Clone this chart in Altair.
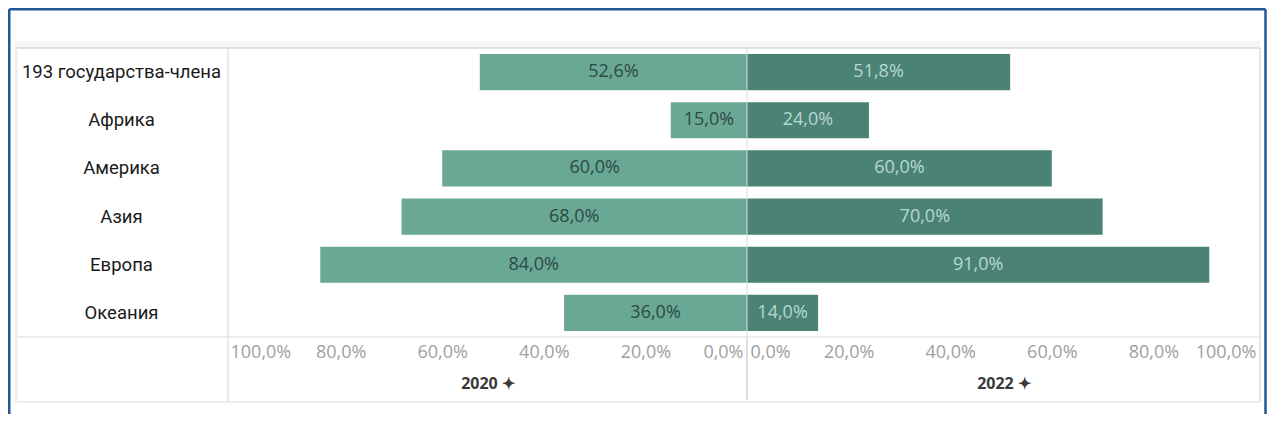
import altair as alt
import pandas as pd

# ---- data ----
regions = ["193 государства-члена", "Африка", "Америка", "Азия", "Европа", "Океания"]
v2020 = [0.526, 0.15, 0.60, 0.68, 0.84, 0.36]
v2022 = [0.518, 0.24, 0.60, 0.70, 0.91, 0.14]
tick_values = [0.0, 0.2, 0.4, 0.6, 0.8, 1.0]
panel_titles = ["2020 ✦", "2022 ✦"]

df = pd.DataFrame({"region": regions, "y2020": v2020, "y2022": v2022})

PX_PER_UNIT = 508.0
WL, WR, H = 519, 513, 289
XMAX_L = WL / PX_PER_UNIT
XMAX_R = WR / PX_PER_UNIT
NUM_FONT = "Open Sans"
ROW_FONT = "Roboto"
fmt_expr = "replace(format(datum.value, '.1%'), '.', ',')"

C_LEFT = "#6aa896"
C_RIGHT = "#4b8276"
GRID = "#dcdcdc"
BLUE = "#1f5894"

yscale = alt.Scale(paddingInner=0.25, paddingOuter=0.125)


def xaxis(title, side):
    if side == "left":
        align = {"condition": [{"test": "datum.value >= 0.99", "value": "left"},
                               {"test": "datum.value <= 0.01", "value": "right"}],
                 "value": "center"}
        offset = {"condition": [{"test": "datum.value >= 0.99", "value": -9},
                                {"test": "datum.value <= 0.01", "value": -4}],
                  "value": 0}
    else:
        align = {"condition": [{"test": "datum.value >= 0.99", "value": "right"},
                               {"test": "datum.value <= 0.01", "value": "left"}],
                 "value": "center"}
        offset = {"condition": [{"test": "datum.value >= 0.99", "value": 1},
                                {"test": "datum.value <= 0.01", "value": 3}],
                  "value": 0}
    return alt.Axis(
        values=tick_values, labelExpr=fmt_expr, title=title, grid=False,
        domain=False, ticks=False, tickSize=0, labelPadding=6,
        labelAlign=align, labelOffset=offset,
        labelColor="#a0a0a0", labelFont=NUM_FONT, labelFontSize=18,
        titleFont=NUM_FONT, titleFontSize=16, titleFontWeight="bold",
        titleColor="#3a3a3a", titlePadding=14,
    )


dummy = alt.Data(values=[{}])


def hrule(x1, x2, y, color=GRID, w=1.0):
    return alt.Chart(dummy).mark_rule(color=color, strokeWidth=w).encode(
        x=alt.value(x1), x2=alt.value(x2), y=alt.value(y))


def vrule(x, y1, y2, color=GRID, w=1.0):
    return alt.Chart(dummy).mark_rule(color=color, strokeWidth=w).encode(
        x=alt.value(x), y=alt.value(y1), y2=alt.value(y2))


RIGHT_EDGE = WL + WR
# decorations (table frame + page border), drawn relative to left panel
top_band = alt.Chart(dummy).mark_rect(color="#f6f6f6").encode(
    x=alt.value(-213), x2=alt.value(RIGHT_EDGE), y=alt.value(-7), y2=alt.value(0))
decor = [
    top_band,
    hrule(-213, RIGHT_EDGE, 0, "#d9d9d9", 1.5),
    hrule(-213, RIGHT_EDGE, H, GRID, 1.2),
    hrule(-213, RIGHT_EDGE, 354, "#eeeeee", 2),
    vrule(-212, 0, 354, "#eeeeee", 3),
    vrule(0, 0, 354, GRID, 1.2),
    vrule(WL, H, 352, "#cccccc", 1.2),
    vrule(RIGHT_EDGE, 0, 354, GRID, 1.5),
    # outer blue frame
    hrule(-218.75, 1037.5, -38.75, BLUE, 2.5),
    vrule(-218.75, -38.75, 366, BLUE, 2.5),
    vrule(1037.5, -38.75, 366, BLUE, 2.5),
]

base_l = alt.Chart(df).transform_calculate(
    mid="datum.y2020 / 2",
    lbl="replace(format(datum.y2020, '.1%'), '.', ',')",
)
xs_l = alt.Scale(domain=[0, XMAX_L], reverse=True, nice=False, zero=True)
bars_l = base_l.mark_bar(color=C_LEFT).encode(
    x=alt.X("y2020:Q", scale=xs_l, axis=xaxis(panel_titles[0], "left")),
    y=alt.Y("region:N", sort=regions, scale=yscale, title=None,
            axis=alt.Axis(labelAlign="center", labelPadding=107, ticks=False,
                          tickSize=0, domain=False, labelFont=ROW_FONT,
                          labelFontSize=18.5, labelColor="#1a1a1a", grid=False,
                          labelBaseline="middle", labelLimit=0)),
)
text_l = base_l.mark_text(color="#2c4a43", font=NUM_FONT, fontSize=18,
                          baseline="middle").encode(
    x=alt.X("mid:Q", title=panel_titles[0]),
    y=alt.Y("region:N", sort=regions),
    text="lbl:N",
)
left = alt.layer(*decor[:1], bars_l, text_l, *decor[1:]).properties(width=WL, height=H)

base_r = alt.Chart(df).transform_calculate(
    mid="datum.y2022 / 2",
    lbl="replace(format(datum.y2022, '.1%'), '.', ',')",
)
xs_r = alt.Scale(domain=[0, XMAX_R], nice=False, zero=True)
bars_r = base_r.mark_bar(color=C_RIGHT).encode(
    x=alt.X("y2022:Q", scale=xs_r, axis=xaxis(panel_titles[1], "right")),
    y=alt.Y("region:N", sort=regions, scale=yscale, axis=None),
)
text_r = base_r.mark_text(color="#b6d9cf", font=NUM_FONT, fontSize=18,
                          baseline="middle").encode(
    x=alt.X("mid:Q", title=panel_titles[1]),
    y=alt.Y("region:N", sort=regions, axis=None),
    text="lbl:N",
)
center = alt.Chart(dummy).mark_rule(color="#d7dedb", strokeWidth=1).encode(
    x=alt.value(0), y=alt.value(0), y2=alt.value(H))
right = alt.layer(bars_r, text_r, center).properties(width=WR, height=H)

chart = alt.hconcat(left, right, spacing=0, bounds="flush").properties(
    padding=0, background="white"
).configure_view(stroke=None)

chart.save("out.html", embed_options={"renderer": "svg", "actions": False})
